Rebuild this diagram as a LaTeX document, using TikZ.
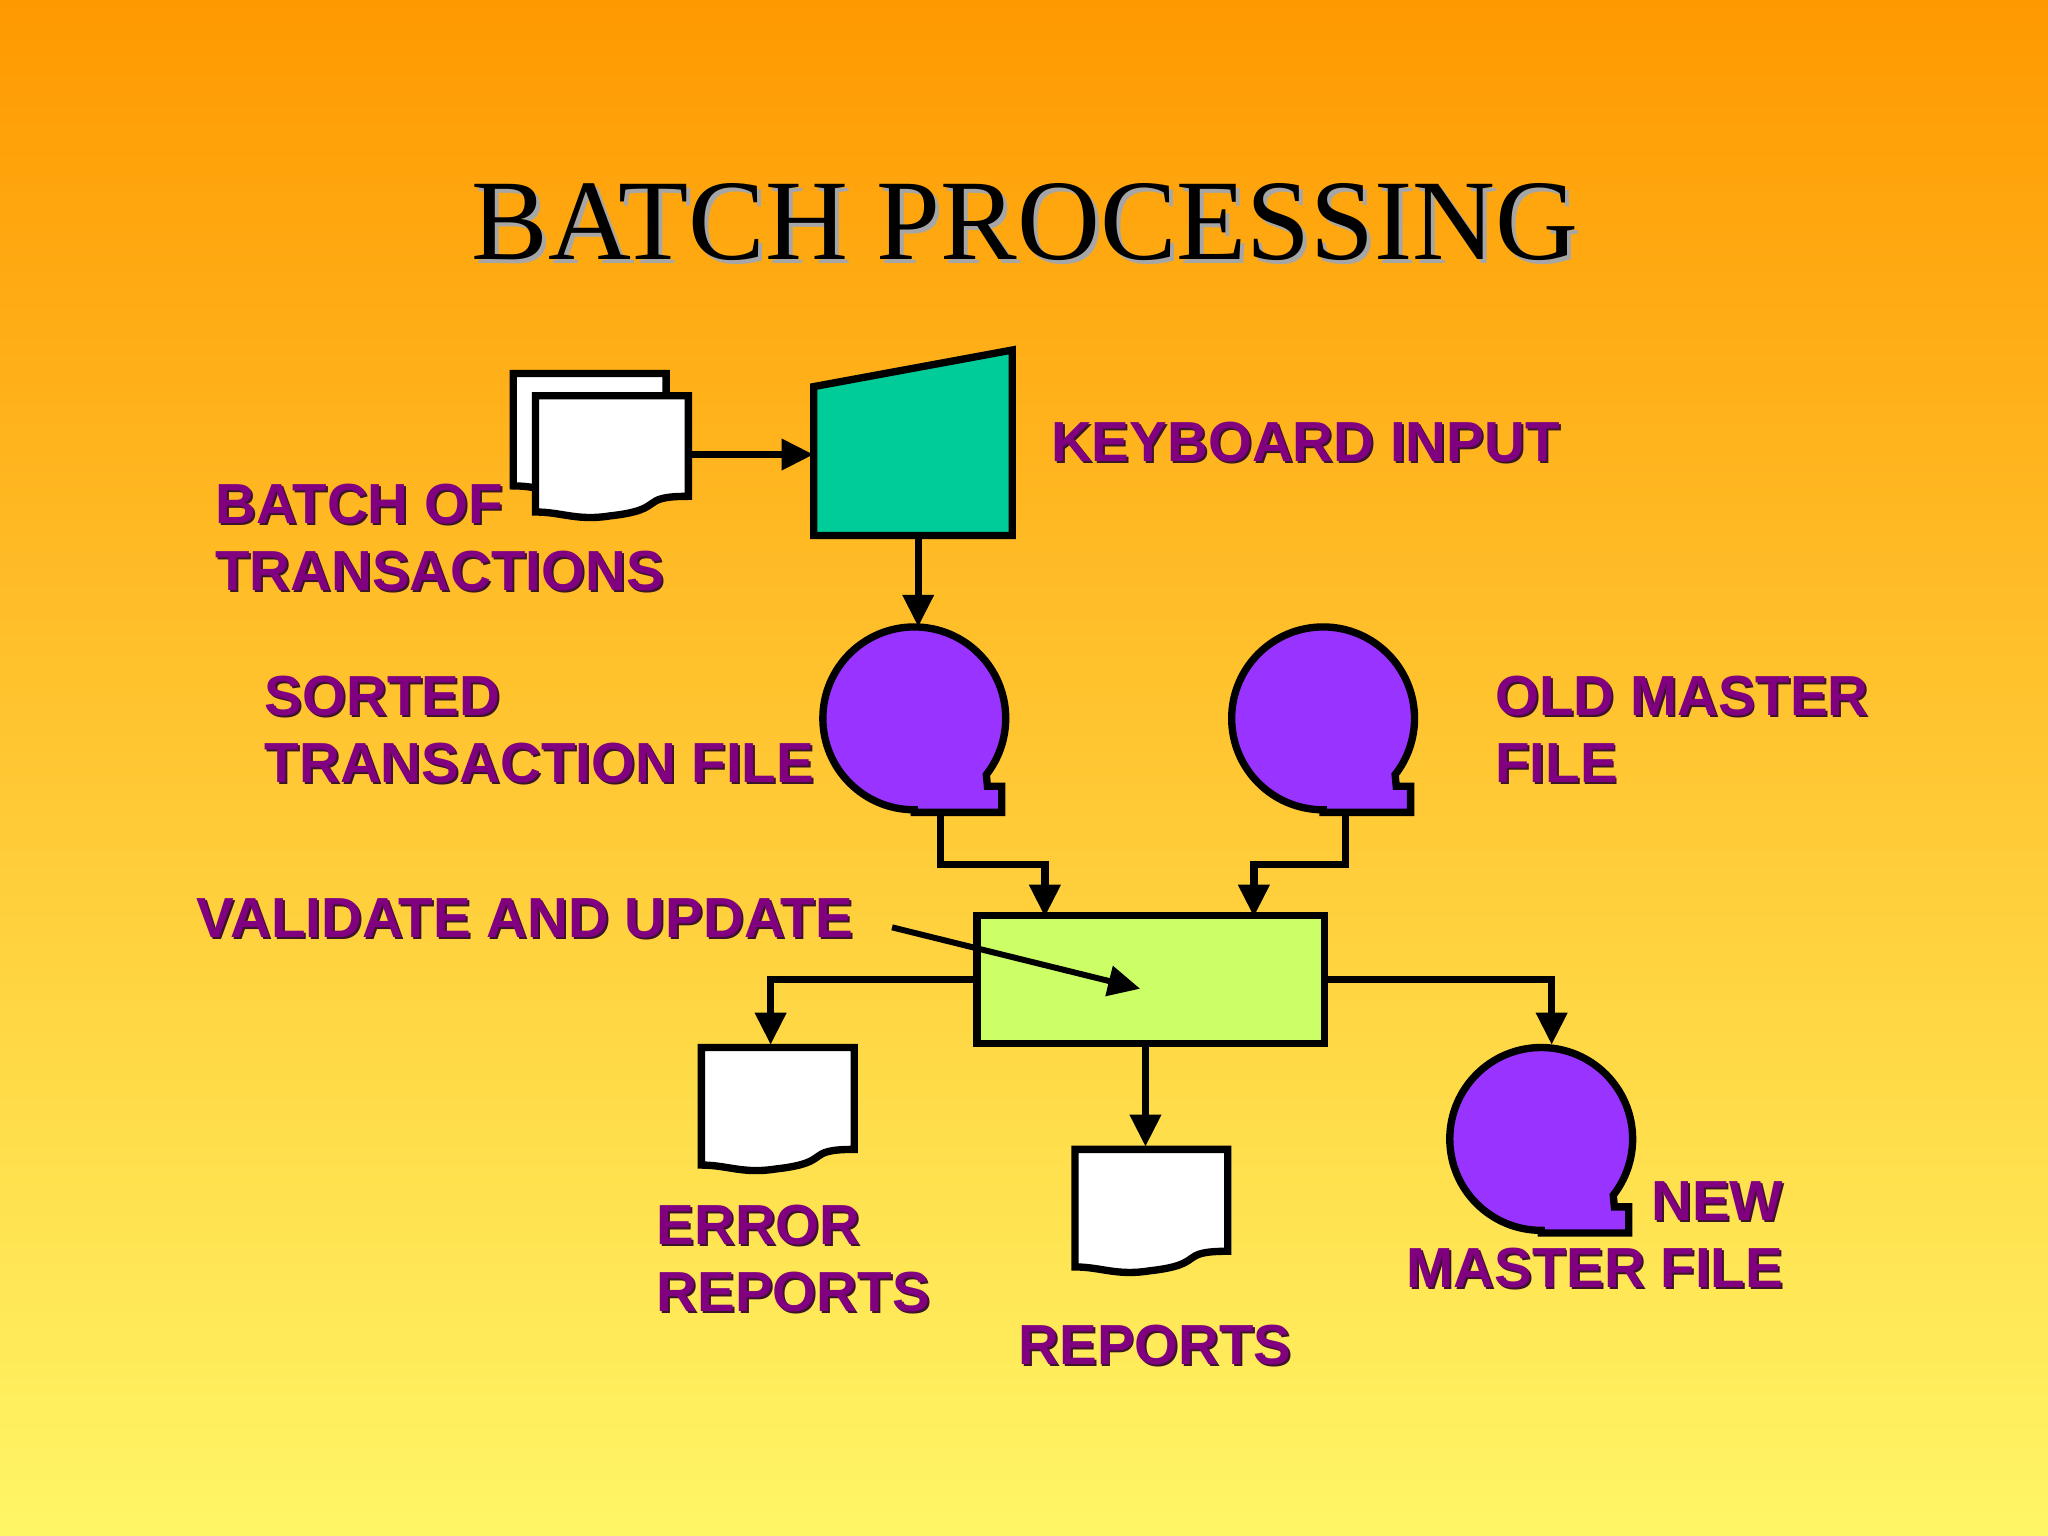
\documentclass[tikz,border=0pt]{standalone}
\usepackage{fontspec}
\setmainfont{Liberation Serif}
\newfontfamily\lblfont{Liberation Sans}
\usetikzlibrary{arrows.meta}
\definecolor{bgtop}{RGB}{255,153,0}
\definecolor{bgbot}{RGB}{255,246,102}
\definecolor{lbl}{RGB}{128,0,128}
\definecolor{lblsh}{RGB}{60,20,40}
\definecolor{tapec}{RGB}{153,51,255}
\definecolor{kbd}{RGB}{0,204,153}
\definecolor{proc}{RGB}{204,255,102}
\begin{document}
\begin{tikzpicture}[x=0.01cm,y=-0.01cm,
  line width=1.6pt,
  arr/.style={-{Triangle[length=7pt,width=6.5pt]}},
  lab/.style={font=\lblfont\bfseries\fontsize{12.3}{14.5}\selectfont, text=lbl, align=left, inner sep=0pt,
    anchor=north west},
  labsh/.style={lab, text=lblsh},
  doc/.style={fill=white, draw=black}]
\shade[top color=bgtop, bottom color=bgbot] (0,0) rectangle (1568,1176);
\useasboundingbox (0,0) rectangle (1568,1176);

% title
\node[font=\fontsize{25}{30}\selectfont, text=gray!70] at (788,173) {BATCH PROCESSING};
\node[font=\fontsize{25}{30}\selectfont] (title) at (785,170) {BATCH PROCESSING};

% document shape
\newcommand\docshape[3]{% x, y (top-left), height
  \draw[doc] (#1,#2) -- ++(117,0) -- ++(0,#3-20) .. controls +(-40,0) and +(45,-5) .. ++(-60,15)
    .. controls +(-25,4) and +(20,0) .. ++(-57,-3) -- cycle;}
\docshape{393}{286}{94}
\docshape{410}{303}{97}
\coordinate (stack) at (527,348);

% keyboard input
\draw[fill=kbd] (623,296) -- (775,268) -- (775,410) -- (623,410) -- cycle;
\coordinate (kin) at (623,348);
\coordinate (kout) at (703,410);

% tapes
\newcommand\tape[3]{% center x, y, name
  \draw[fill=tapec] (#1,#2+70) arc (90:398:70) -- (#1+56,#2+52) -- (#1+67,#2+52) -- (#1+67,#2+72) -- (#1,#2+72) -- cycle;
  \coordinate (#3) at (#1,#2);}
\tape{700}{550}{sorted}
\tape{1013}{550}{old}
\tape{1180}{872}{new}

% process
\node[draw, fill=proc, minimum width=2.66cm, minimum height=0.98cm, inner sep=0pt] (upd) at (881,750) {};

% documents out
\docshape{537}{802}{98}
\docshape{823}{880}{98}
\coordinate (err) at (590,800);
\coordinate (rep) at (877,878);

% connectors
\draw[arr] (stack) -- (kin);
\draw[arr] (kout) -- (703,480);
\draw[arr] (720,622) -- (720,662) -- (800,662) -- (800,702);
\draw[arr] (1030,622) -- (1030,662) -- (960,662) -- (960,702);
\draw[arr] (upd.west) -- (590,750) -- (err);
\draw[arr] (upd.east) -- (1188,750) -- (1188,800);
\draw[arr] (877,800) -- (rep);
\draw[arr, line width=1.3pt] (683,710) -- (873,757);

% labels
\newcommand\lab[4][]{% options, x, y, text
  \node[labsh,#1] at (#2+1.5,#3+1.5) {#4};
  \node[lab,#1] at (#2,#3) {#4};}
\lab{162}{368}{BATCH OF\\TRANSACTIONS}
\lab{802}{320}{KEYBOARD INPUT}
\lab{200}{515}{SORTED\\TRANSACTION FILE}
\lab{1142}{515}{OLD MASTER\\FILE}
\lab{148}{685}{VALIDATE AND UPDATE}
\lab{500}{920}{ERROR\\REPORTS}
\lab{777}{1012}{REPORTS}
\lab[align=right, anchor=north east]{1368}{902}{NEW\\MASTER FILE}
\end{tikzpicture}
\end{document}
